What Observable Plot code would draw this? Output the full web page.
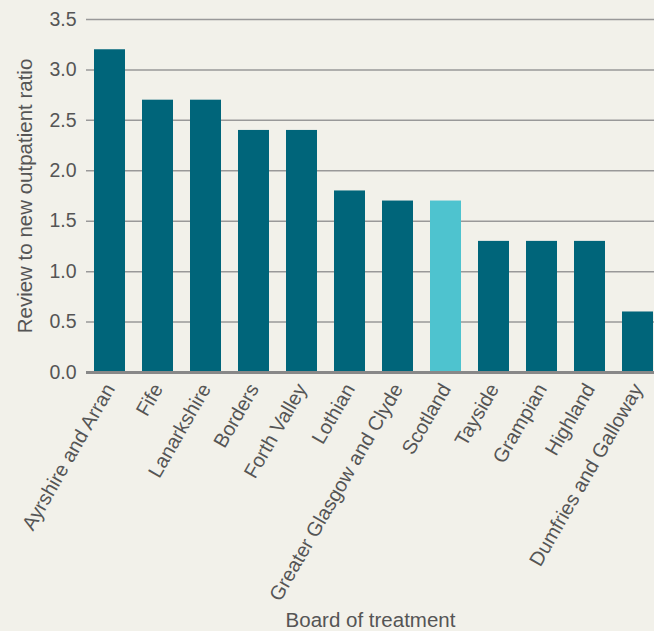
<!DOCTYPE html>
<html>
<head>
<meta charset="utf-8">
<script src="https://cdn.jsdelivr.net/npm/d3@7"></script>
<script src="https://cdn.jsdelivr.net/npm/@observablehq/plot@0.6"></script>
<style>
  html, body { margin: 0; padding: 0; background: #f2f1ea; overflow: hidden; }
  #chart { width: 654px; height: 631px; overflow: hidden; }
</style>
</head>
<body>
<div id="chart"></div>
<script>
const boards = ["Ayrshire and Arran", "Fife", "Lanarkshire", "Borders", "Forth Valley", "Lothian",
  "Greater Glasgow and Clyde", "Scotland", "Tayside", "Grampian", "Highland", "Dumfries and Galloway"];
const ratios = [3.2, 2.7, 2.7, 2.4, 2.4, 1.8, 1.7, 1.7, 1.3, 1.3, 1.3, 0.6];
const highlight = "Scotland";
const yTicks = [0, 0.5, 1, 1.5, 2, 2.5, 3, 3.5];
const yLabel = "Review to new outpatient ratio";
const xLabel = "Board of treatment";

const data = boards.map((b, i) => ({board: b, ratio: ratios[i]}));

const chart = Plot.plot({
  width: 654,
  height: 631,
  marginLeft: 86,
  marginRight: 0,
  marginTop: 19,
  marginBottom: 259,
  style: {background: "#f2f1ea", fontFamily: "'Liberation Sans', Arial, sans-serif", fontSize: "19.5px", color: "#555"},
  x: {domain: boards, range: [84, 662], paddingInner: 0.36, paddingOuter: 0.166, label: null},
  y: {domain: [0, 3.5], label: null},
  marks: [
    Plot.gridY(yTicks, {stroke: "#999", strokeOpacity: 1, strokeWidth: 1.5}),
    Plot.barY(data, {x: "board", y: "ratio", fill: d => d.board === highlight ? "#4ec3cf" : "#00657a"}),
    Plot.ruleY([0], {stroke: "#888", strokeWidth: 3}),
    Plot.axisY(yTicks, {tickSize: 0, tickPadding: 10, tickFormat: d3.format(".1f"), label: null, fill: "#555", fontSize: 19.5}),
    Plot.axisX({tickSize: 0, tickRotate: -60, tickPadding: 13, label: null, fill: "#555", fontSize: 20}),
    Plot.text([yLabel], {frameAnchor: "left", dx: -61, rotate: -90, textAnchor: "middle", fontSize: 20.5, fill: "#555"}),
    Plot.text([xLabel], {frameAnchor: "bottom", dy: 254, fontSize: 20.5, fill: "#555"})
  ]
});
document.getElementById("chart").appendChild(chart);
</script>
</body>
</html>
